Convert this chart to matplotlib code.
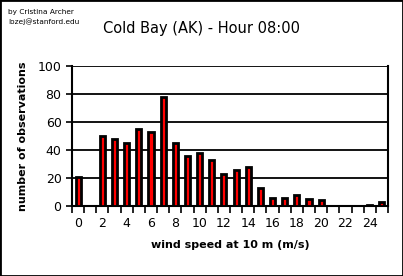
import numpy as np
import matplotlib.pyplot as plt

speeds = np.arange(0, 26)
counts = [21, 0, 50, 48, 45, 55, 53, 78, 45, 36, 38, 33, 23, 26, 28, 13,
          6, 6, 8, 5, 4, 0, 0, 0, 1, 3]
tick_vals = list(range(0, 25, 2))
yticks = [0, 20, 40, 60, 80, 100]

fig = plt.figure(figsize=(4.03, 2.76), dpi=100)
ax = fig.add_axes([72/403, 1 - 206/276, 316/403, 140/276])

ax.bar(speeds + 0.5, counts, width=0.42, color='#ff0000',
       edgecolor='black', linewidth=2, zorder=3)

ax.set_xlim(0, 26)
ax.set_ylim(0, 100)
ax.set_xticks(np.arange(0, 27))
ax.set_xticklabels([])
ax.set_xticks(np.array(tick_vals) + 0.5, minor=True)
ax.set_xticklabels([str(v) for v in tick_vals], minor=True)
ax.tick_params(axis='x', which='major', direction='out', length=5, width=1.2)
ax.tick_params(axis='x', which='minor', length=0, pad=8, labelsize=9)
ax.set_yticks(yticks)
ax.tick_params(axis='y', direction='out', length=4, width=1.2, labelsize=9)

ax.grid(axis='y', color='black', linewidth=1.3, zorder=0)
for s in ['left', 'bottom', 'right']:
    ax.spines[s].set_linewidth(1.5)
ax.spines['top'].set_visible(False)

ax.set_xlabel('wind speed at 10 m (m/s)', fontweight='bold', fontsize=8, labelpad=7)
ax.set_ylabel('number of observations', fontweight='bold', fontsize=8, labelpad=7)

fig.text(0.5, 1 - 28/276, 'Cold Bay (AK) - Hour 08:00', ha='center', va='center', fontsize=10.5)
fig.text(8/403, 1 - 12/276, 'by Cristina Archer', fontsize=5.3, va='center')
fig.text(8/403, 1 - 22/276, 'lozej@stanford.edu', fontsize=5.3, va='center')

fig.patches.append(plt.Rectangle((0, 0), 1, 1, transform=fig.transFigure,
                                 fill=False, edgecolor='black', linewidth=2))

fig.savefig('out.png', dpi=100)
